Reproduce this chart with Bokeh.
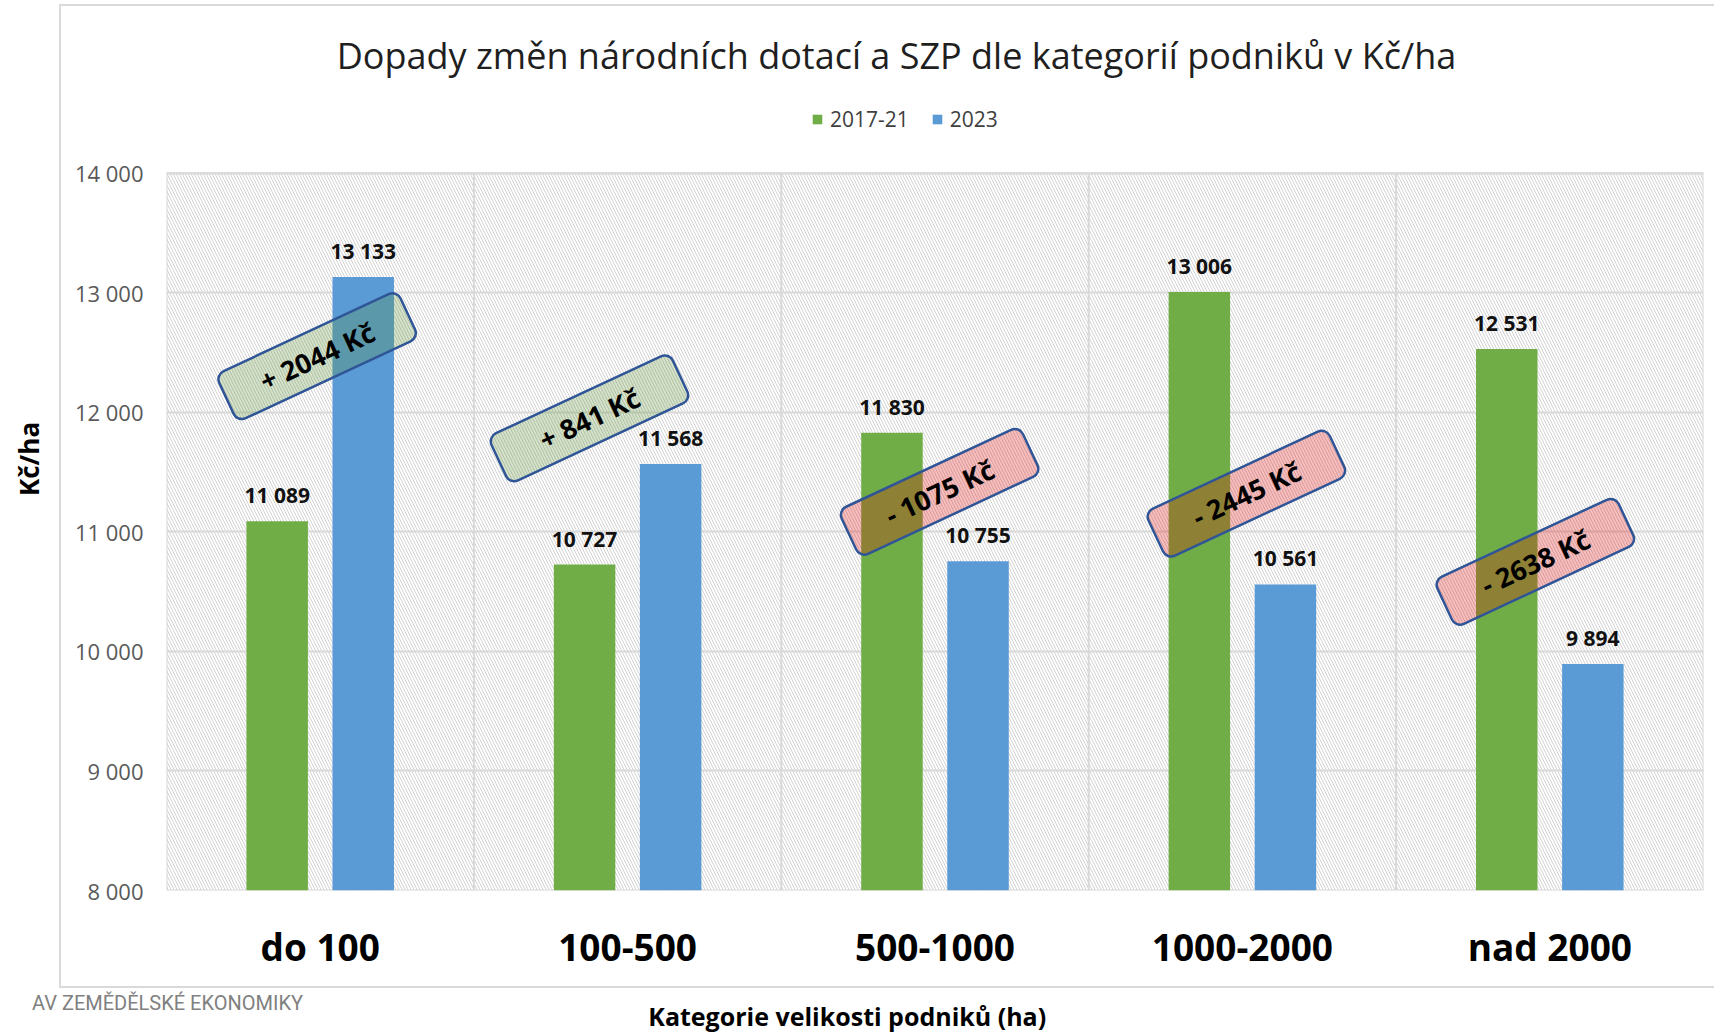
from bokeh.plotting import figure
from bokeh.models import (Range1d, FixedTicker, Legend, LegendItem, Label,
                          ColumnDataSource, LinearAxis)
from bokeh.core.properties import value
from bokeh.embed import file_html
from bokeh.resources import INLINE

# ---------------- data ----------------
categories = ["do 100", "100-500", "500-1000", "1000-2000", "nad 2000"]
series_names = ["2017-21", "2023"]
values_2017_21 = [11089, 10727, 11830, 13006, 12531]
values_2023 = [13133, 11568, 10755, 10561, 9894]
change_labels = ["+ 2044 Kč", "+ 841 Kč", "- 1075 Kč", "- 2445 Kč", "- 2638 Kč"]
y_ticks = [8000, 9000, 10000, 11000, 12000, 13000, 14000]

title_text = "Dopady změn národních dotací a SZP dle kategorií podniků v Kč/ha"
x_title = "Kategorie velikosti podniků  (ha)"
y_title = "Kč/ha"
logo_text = "AV ZEMĚDĚLSKÉ EKONOMIKY"

# ---------------- layout (pixels) ----------------
W, H = 1714, 1035
FL, FR, FB = 166, 11, 144          # frame reaches the top of the canvas
FT = 0
FW = W - FL - FR
FH = H - FT - FB                   # frame bottom at page y = 891
PLOT_TOP = 173                     # page y of the 14 000 line
Y0, Y1 = 8000, 14000
UNITS_PER_PX = (Y1 - Y0) / (FH - PLOT_TOP)
Y_TOP = Y0 + FH * UNITS_PER_PX
N = len(categories)
BAR_W, BAR_OFF = 0.2, 0.14

# placement of the rotated change boxes (offset from category centre, y position)
box_x_shift = [-0.01, -0.124, 0.015, 0.013, -0.047]
box_y = [12470, 11950, 11335, 11320, 10750]


def fmt(v):
    return f"{v:,}".replace(",", " ")


def data_x(px):
    return (px - FL) / FW * N


def data_y(py):
    return Y0 + (FH - py) * UNITS_PER_PX


GREEN = "#70AD47"
BLUE = "#5B9BD5"
GRID = "#d9d9d9"
FONT = "Open Sans"

centers = [i + 0.5 for i in range(N)]
src = ColumnDataSource(dict(
    xa=[c - BAR_OFF for c in centers],
    xb=[c + BAR_OFF for c in centers],
    a=values_2017_21,
    b=values_2023,
    a_lbl=[fmt(v) for v in values_2017_21],
    b_lbl=[fmt(v) for v in values_2023],
    chg=change_labels,
    bx=[c + s for c, s in zip(centers, box_x_shift)],
    by=box_y,
    fill=["#578f2e" if b > a else "#e30000" for a, b in zip(values_2017_21, values_2023)],
))

p = figure(width=W, height=H, x_range=Range1d(0, N), y_range=Range1d(Y0, Y_TOP),
           output_backend="svg", toolbar_location=None,
           min_border_left=FL, min_border_right=FR, min_border_top=FT, min_border_bottom=FB)
p.outline_line_color = None
p.background_fill_color = None
p.border_fill_color = None
# outer chart frame (thin grey lines) drawn as CSS background behind the transparent canvas
p.styles = {
    "background-color": "white",
    "background-image": "linear-gradient(#d9d9d9,#d9d9d9), linear-gradient(#d9d9d9,#d9d9d9), "
                        "linear-gradient(#d9d9d9,#d9d9d9)",
    "background-size": "2px 984px, 1700px 2px, 1700px 2px",
    "background-position": "59px 4px, 59px 4px, 59px 986px",
    "background-repeat": "no-repeat",
}

# hatched plot area background
p.quad(left=[0], right=[N], bottom=[Y0], top=[Y1], fill_color="white", line_alpha=0,
       hatch_pattern="\\", hatch_color="#d2d2d2", hatch_scale=6, hatch_weight=1, level="image")

# grid: horizontal lines at the ticks, vertical separators between categories, plot-area border
p.ygrid.ticker = FixedTicker(ticks=y_ticks)
p.ygrid.grid_line_color = GRID
p.ygrid.grid_line_width = 2
p.xgrid.grid_line_color = None
p.segment(x0=list(range(1, N)), x1=list(range(1, N)), y0=Y0, y1=Y1,
          line_color=GRID, line_width=2, level="underlay")
p.quad(left=[0], right=[N], bottom=[Y0], top=[Y1], fill_alpha=0, line_color=GRID,
       line_width=2, level="underlay")

# bars
r1 = p.vbar(x="xa", top="a", bottom=Y0, width=BAR_W, source=src, fill_color=GREEN, line_color=None)
r2 = p.vbar(x="xb", top="b", bottom=Y0, width=BAR_W, source=src, fill_color=BLUE, line_color=None)

# data labels
for xc, col, lbl in (("xa", "a", "a_lbl"), ("xb", "b", "b_lbl")):
    p.text(x=xc, y=col, text=lbl, source=src, y_offset=-26,
           text_align="center", text_baseline="middle", text_font=value(FONT),
           text_font_style="bold", text_font_size="21px", text_color="#111111")

# change boxes
p.rect(x="bx", y="by", width=200, height=52, width_units="screen", height_units="screen",
       angle=25, angle_units="deg", fill_color="fill", fill_alpha=0.26,
       line_color="#2f5597", line_width=2.5, border_radius=9, source=src)
p.text(x="bx", y="by", text="chg", angle=25, angle_units="deg", source=src,
       text_align="center", text_baseline="middle", text_font=value(FONT),
       text_font_style="bold", text_font_size="27px", text_color="#000000")

# main axes
yax = p.yaxis[0]
xax = p.xaxis[0]
yax.ticker = FixedTicker(ticks=y_ticks)
yax.major_label_overrides = {t: fmt(t) for t in y_ticks}
yax.major_label_text_font = FONT
yax.major_label_text_font_size = "22px"
yax.major_label_text_color = "#595959"
yax.major_label_standoff = 23
xax.ticker = FixedTicker(ticks=centers)
xax.major_label_overrides = {c: name for c, name in zip(centers, categories)}
xax.major_label_text_font = FONT
xax.major_label_text_font_style = "bold"
xax.major_label_text_font_size = "37px"
xax.major_label_text_color = "#000000"
xax.major_label_standoff = 30


def bare(ax):
    ax.axis_line_color = None
    ax.major_tick_line_color = None
    ax.minor_tick_line_color = None
    ax.major_tick_out = 0
    ax.minor_tick_out = 0
    ax.major_tick_in = 0
    ax.minor_tick_in = 0


bare(xax)
bare(yax)

# pixel ranges for the text-only axes (page pixel positions)
p.extra_x_ranges = {"px": Range1d(FL, FL + FW)}
p.extra_y_ranges = {"py": Range1d(-(FT + FH), -FT)}

# y title (rotated)
y_title_pos = -459
ax_yt = LinearAxis(y_range_name="py", ticker=FixedTicker(ticks=[y_title_pos]),
                   major_label_overrides={y_title_pos: y_title}, major_label_orientation="vertical",
                   major_label_standoff=24, major_label_text_font=FONT,
                   major_label_text_font_style="bold", major_label_text_font_size="26px",
                   major_label_text_color="#000000")
bare(ax_yt)
p.add_layout(ax_yt, "left")

# logo text line and x title below the category labels
logo_pos = FL + 1
ax_logo = LinearAxis(x_range_name="px", ticker=FixedTicker(ticks=[logo_pos]),
                     major_label_overrides={logo_pos: logo_text}, major_label_standoff=16,
                     major_label_text_font="Roboto", major_label_text_font_size="20px",
                     major_label_text_color="#808080")
bare(ax_logo)
p.add_layout(ax_logo, "below")

x_title_pos = 850
ax_xt = LinearAxis(x_range_name="px", ticker=FixedTicker(ticks=[x_title_pos]),
                   major_label_overrides={x_title_pos: x_title}, major_label_standoff=-19,
                   major_label_text_font=FONT, major_label_text_font_style="bold",
                   major_label_text_font_size="25px", major_label_text_color="#000000")
bare(ax_xt)
p.add_layout(ax_xt, "below")

# legend (inside the frame, above the plot area)
legend = Legend(items=[LegendItem(label=series_names[0], renderers=[r1]),
                       LegendItem(label=series_names[1], renderers=[r2])],
                orientation="horizontal", location=(811 - FL, FH - 134), glyph_width=12,
                glyph_height=12, label_text_font=FONT, label_text_font_size="21px",
                label_text_color="#404040", label_standoff=7, spacing=22, padding=0, margin=0,
                border_line_color=None, background_fill_alpha=0)
p.add_layout(legend)

# chart title
p.add_layout(Label(x=data_x(896), y=data_y(55), text=title_text, text_align="center",
                   text_baseline="middle", text_font=FONT, text_font_size="36px",
                   text_color="#1f1f1f"))

open("out.html", "w").write(file_html(p, INLINE))
